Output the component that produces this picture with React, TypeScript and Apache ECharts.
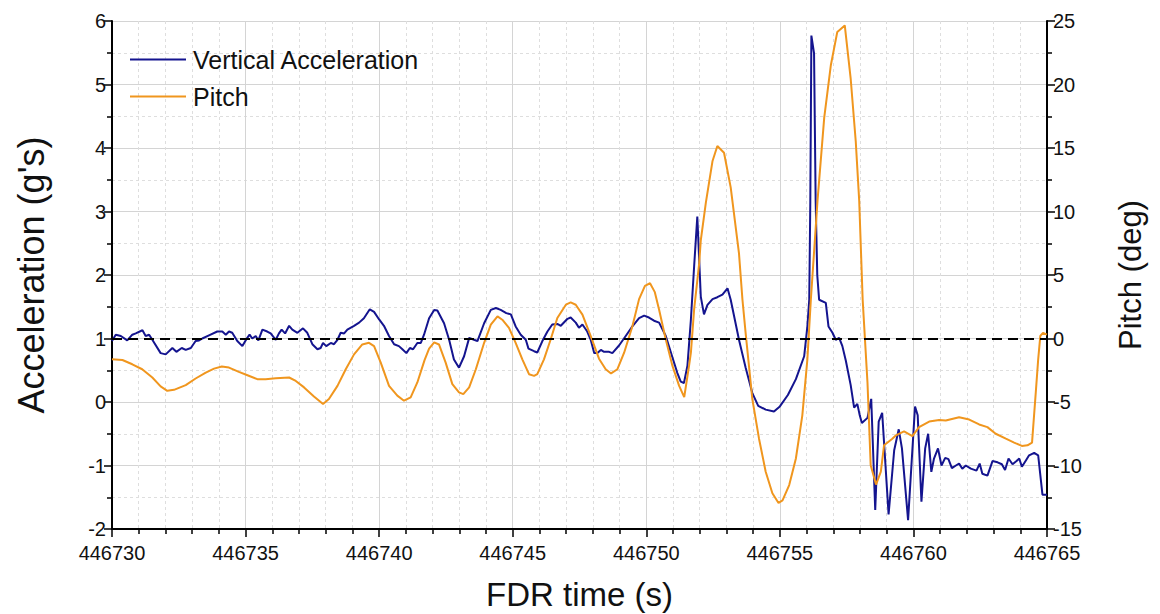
import React, { useEffect, useRef } from "react";
import * as echarts from "echarts";

const BASE_TIME = 446730;
const X_TICKS = [446730, 446735, 446740, 446745, 446750, 446755, 446760, 446765];

// Vertical acceleration (g's): time offset from BASE_TIME (s), value
const accT = [
  0.0, 0.14, 0.33, 0.57, 0.76, 0.89, 1.14, 1.26, 1.39, 1.51, 1.82, 2.01, 2.26, 2.41, 2.61, 2.76, 2.95,
  3.13, 3.26, 3.38, 3.63, 3.94, 4.13, 4.26, 4.38, 4.5, 4.69, 4.88, 5.03, 5.15, 5.25, 5.38, 5.48, 5.63,
  5.81, 5.94, 6.13, 6.25, 6.35, 6.48, 6.63, 6.75, 6.94, 7.15, 7.31, 7.5, 7.69, 7.81, 7.9, 8.02, 8.19,
  8.31, 8.44, 8.56, 8.69, 8.81, 9.06, 9.25, 9.43, 9.65, 9.81, 10.0, 10.18, 10.37, 10.56, 10.74, 10.87,
  11.02, 11.15, 11.27, 11.43, 11.56, 11.68, 11.87, 12.06, 12.18, 12.43, 12.62, 12.8, 12.99, 13.18,
  13.37, 13.55, 13.68, 13.93, 14.18, 14.37, 14.55, 14.76, 14.93, 15.11, 15.3, 15.49, 15.59, 15.8,
  15.92, 16.11, 16.3, 16.48, 16.67, 16.8, 17.05, 17.17, 17.36, 17.48, 17.61, 17.79, 17.92, 18.05,
  18.17, 18.3, 18.42, 18.61, 18.73, 18.98, 19.23, 19.48, 19.73, 19.92, 20.1, 20.29, 20.48, 20.73,
  20.98, 21.16, 21.29, 21.41, 21.54, 21.67, 21.79, 21.91, 22.04, 22.16, 22.29, 22.48, 22.66, 22.85,
  23.04, 23.16, 23.47, 23.72, 23.97, 24.19, 24.47, 24.78, 25.0, 25.3, 25.6, 25.91, 26.03, 26.1,
  26.14, 26.18, 26.28, 26.34, 26.4, 26.47, 26.72, 26.82, 26.97, 27.09, 27.22, 27.34, 27.47, 27.65,
  27.78, 27.9, 27.99, 28.07, 28.28, 28.42, 28.57, 28.7, 28.83, 29.07, 29.28, 29.45, 29.57, 29.8,
  30.06, 30.16, 30.3, 30.44, 30.55, 30.67, 30.77, 30.92, 31.05, 31.19, 31.31, 31.44, 31.59, 31.71,
  31.83, 31.96, 32.15, 32.36, 32.48, 32.58, 32.77, 32.96, 33.15, 33.31, 33.43, 33.56, 33.71, 33.86,
  33.96, 34.06, 34.21, 34.33, 34.52, 34.67, 34.83, 35.0,
];
const accV = [
  0.96, 1.06, 1.04, 0.97, 1.06, 1.08, 1.13, 1.04, 1.06, 0.98, 0.77, 0.75, 0.85, 0.79, 0.85, 0.82, 0.85,
  0.96, 0.97, 1.0, 1.05, 1.11, 1.11, 1.06, 1.11, 1.09, 0.96, 0.88, 0.99, 1.06, 1.0, 1.04, 0.97, 1.14,
  1.11, 1.08, 0.98, 1.08, 1.14, 1.08, 1.2, 1.14, 1.09, 1.16, 1.09, 0.91, 0.83, 0.85, 0.93, 0.88, 0.93,
  0.91, 0.98, 1.09, 1.08, 1.14, 1.2, 1.25, 1.32, 1.46, 1.42, 1.3, 1.2, 1.04, 0.91, 0.88, 0.83,
  0.77, 0.85, 0.83, 0.93, 0.93, 1.06, 1.32, 1.45, 1.44, 1.24, 0.98, 0.67, 0.54, 0.72,
  1.01, 0.98, 0.96, 1.24, 1.45, 1.48, 1.45, 1.4, 1.38, 1.19, 1.06, 0.98, 0.84, 0.8,
  0.78, 0.96, 1.11, 1.22, 1.23, 1.2, 1.31, 1.33, 1.25, 1.17, 1.22, 1.11, 0.98, 0.77,
  0.77, 0.82, 0.79, 0.79, 0.77, 0.89, 1.04, 1.19, 1.32, 1.36, 1.33, 1.28, 1.25, 1.04,
  0.7, 0.46, 0.32, 0.3, 0.57, 1.3, 2.13, 2.92, 1.66, 1.38, 1.53, 1.62, 1.65, 1.69,
  1.79, 1.61, 0.98, 0.54, 0.14, -0.06, -0.12, -0.15, -0.07, 0.11, 0.36, 0.72, 1.19, 1.61,
  3.17, 5.77, 5.49, 3.17, 2.0, 1.61, 1.56, 1.19, 1.09, 0.98, 1.01, 0.88, 0.65, 0.27,
  -0.09, -0.03, -0.21, -0.33, -0.25, 0.05, -1.7, -0.31, -0.17, -1.77, -0.76, -0.43, -0.73, -1.86,
  -0.07, -0.21, -1.57, -0.73, -0.5, -1.1, -0.89, -0.73, -1.0, -0.88, -0.9, -1.04, -1.0, -0.97,
  -1.05, -1.0, -1.05, -1.08, -0.97, -1.13, -1.16, -0.93, -0.95, -0.98, -1.07, -0.89, -0.98, -0.93,
  -0.89, -1.02, -0.92, -0.84, -0.8, -0.84, -1.46, -1.46,
];

// Pitch (deg): time offset from BASE_TIME (s), value
const pitchT = [
  0.0, 0.39, 0.76, 1.13, 1.51, 1.82, 2.07, 2.32, 2.76, 3.13, 3.51, 3.82, 4.11, 4.38, 4.75, 5.07, 5.44,
  5.75, 6.13, 6.63, 6.88, 7.19, 7.56, 7.9, 8.12, 8.44, 8.75, 9.06, 9.37, 9.62, 9.81, 10.06, 10.37,
  10.68, 10.93, 11.18, 11.43, 11.7, 11.87, 12.06, 12.24, 12.49, 12.74, 12.99, 13.15, 13.37, 13.62,
  13.93, 14.18, 14.43, 14.61, 14.86, 15.11, 15.36, 15.61, 15.8, 15.92, 16.17, 16.42, 16.67, 16.99,
  17.17, 17.36, 17.61, 17.92, 18.23, 18.48, 18.68, 18.92, 19.17, 19.48, 19.73, 19.95, 20.14, 20.32,
  20.48, 20.73, 20.98, 21.23, 21.42, 21.6, 21.67, 21.79, 21.98, 22.04, 22.23, 22.48, 22.66, 22.91,
  23.16, 23.47, 23.6, 23.72, 23.97, 24.22, 24.47, 24.72, 24.95, 25.1, 25.35, 25.6, 25.84, 26.03,
  26.16, 26.41, 26.66, 26.91, 27.15, 27.43, 27.65, 27.84, 27.97, 28.1, 28.28, 28.4, 28.6, 28.78,
  28.9, 29.21, 29.34, 29.65, 29.96, 30.21, 30.59, 30.96, 31.21, 31.71, 32.09, 32.46, 32.77, 33.08,
  33.46, 33.77, 34.06, 34.27, 34.44, 34.58, 34.67, 34.75, 34.85, 35.0,
];
const pitchV = [
  -1.64, -1.69, -2.03, -2.42, -3.07, -3.77, -4.12, -4.04, -3.67, -3.15, -2.68, -2.37, -2.21, -2.29,
  -2.63, -2.89, -3.2, -3.2, -3.13, -3.07, -3.34, -3.85, -4.56, -5.16, -4.77, -3.73, -2.42, -1.25,
  -0.47, -0.34, -0.6, -1.9, -3.73, -4.5, -4.9, -4.63, -3.46, -1.7, -0.8, -0.3, -0.47, -1.9, -3.59,
  -4.24, -4.38, -3.85, -2.42, -0.34, 1.09, 1.74, 1.48, 0.84, -0.34, -1.64, -2.81, -2.94, -2.81,
  -1.64, -0.08, 1.61, 2.66, 2.84, 2.66, 1.88, 0.18, -1.59, -2.42, -2.75, -2.42, -1.12, 0.96, 3.1,
  4.15, 4.35, 3.65, 2.27, -0.08, -2.16, -3.73, -4.62, -2.16, -1.12, 2.27, 5.91, 7.73, 10.7, 13.98,
  15.16, 14.63, 11.9, 6.7, 3.05, 0.4, -4.77, -7.89, -10.49, -12.19, -12.95, -12.75, -11.54, -9.45,
  -6.07, -1.64, 3.05, 10.86, 17.37, 21.54, 24.14, 24.65, 20.49, 15.55, 10.86, 3.05, -3.46, -9.98,
  -11.5, -10.49, -8.41, -7.89, -7.63, -7.32, -7.68, -6.98, -6.54, -6.41, -6.46, -6.2, -6.38, -6.77,
  -6.98, -7.5, -7.89, -8.2, -8.46, -8.41, -8.2, -4.24, -1.64, 0.2, 0.45, 0.3,
];

const FONT = "'Liberation Sans', Arial, Helvetica, sans-serif";
const BLUE = "#14148f";
const ORANGE = "#f0961e";

export default function App() {
  const ref = useRef<HTMLDivElement>(null);

  useEffect(() => {
    if (!ref.current) return;
    const chart = echarts.init(ref.current, null, { renderer: "svg" });
    const accData = accT.map((t, i) => [BASE_TIME + t, accV[i]]);
    const pitchData = pitchT.map((t, i) => [BASE_TIME + t, pitchV[i]]);

    const tickLabel = { color: "#111", fontSize: 20, fontFamily: FONT };

    chart.setOption({
      animation: false,
      backgroundColor: "#ffffff",
      grid: {
        left: 112,
        right: 113,
        top: 21,
        bottom: 85,
        containLabel: false,
        outerBoundsMode: "none",
      },
      legend: {
        orient: "vertical",
        left: 125,
        top: 42,
        icon: "rect",
        itemWidth: 56,
        itemHeight: 2,
        itemGap: 12,
        textStyle: { color: "#111", fontSize: 25, fontFamily: FONT, padding: [0, 0, 0, 2] },
        data: ["Vertical Acceleration", "Pitch"],
      },
      xAxis: {
        type: "value",
        min: X_TICKS[0],
        max: X_TICKS[X_TICKS.length - 1],
        interval: 5,
        name: "FDR time (s)",
        nameLocation: "middle",
        nameGap: 49,
        nameTextStyle: { color: "#111", fontSize: 33, fontFamily: FONT },
        axisLine: { onZero: false, lineStyle: { color: "#000", width: 2 } },
        axisTick: { show: true, length: 8, lineStyle: { color: "#000", width: 1.5 } },
        minorTick: { show: true, splitNumber: 5, length: 5, lineStyle: { color: "#000", width: 1.5 } },
        axisLabel: { ...tickLabel, margin: 14, formatter: (v: number) => String(v) },
        splitLine: { show: true, lineStyle: { color: "#d4d4d4", width: 1 } },
        minorSplitLine: { show: true, lineStyle: { color: "#dedede", width: 1, type: [3, 3] } },
      },
      yAxis: [
        {
          type: "value",
          min: -2,
          max: 6,
          interval: 1,
          name: "Acceleration (g's)",
          nameLocation: "middle",
          nameGap: 63,
          nameTextStyle: { color: "#111", fontSize: 36, fontFamily: FONT },
          axisLine: { show: true, onZero: false, lineStyle: { color: "#000", width: 2 } },
          axisTick: { show: true, length: 8, lineStyle: { color: "#000", width: 1.5 } },
          minorTick: { show: true, splitNumber: 2, length: 5, lineStyle: { color: "#000", width: 1.5 } },
          axisLabel: { ...tickLabel, margin: 6 },
          splitLine: { show: true, lineStyle: { color: "#d4d4d4", width: 1 } },
          minorSplitLine: { show: true, lineStyle: { color: "#dedede", width: 1, type: [3, 3] } },
        },
        {
          type: "value",
          min: -15,
          max: 25,
          interval: 5,
          position: "right",
          name: "Pitch (deg)",
          nameLocation: "middle",
          nameGap: 68,
          nameTextStyle: { color: "#111", fontSize: 31, fontFamily: FONT },
          axisLine: { show: true, onZero: false, lineStyle: { color: "#000", width: 2 } },
          axisTick: { show: true, length: 8, lineStyle: { color: "#000", width: 1.5 } },
          minorTick: { show: true, splitNumber: 2, length: 5, lineStyle: { color: "#000", width: 1.5 } },
          axisLabel: { ...tickLabel, margin: 6 },
          splitLine: { show: false },
        },
      ],
      series: [
        {
          name: "Vertical Acceleration",
          type: "line",
          yAxisIndex: 0,
          data: accData,
          symbol: "none",
          lineStyle: { color: BLUE, width: 2 },
          itemStyle: { color: BLUE },
          markLine: {
            silent: true,
            symbol: ["none", "none"],
            label: { show: false },
            lineStyle: { color: "#000", width: 2, type: [10, 6] },
            data: [{ yAxis: 1 }],
          },
        },
        {
          name: "Pitch",
          type: "line",
          yAxisIndex: 1,
          data: pitchData,
          symbol: "none",
          lineStyle: { color: ORANGE, width: 2 },
          itemStyle: { color: ORANGE },
        },
      ],
    });
    return () => chart.dispose();
  }, []);

  return (
    <div
      ref={ref}
      style={{ position: "fixed", left: 0, top: 0, width: 1160, height: 614, background: "#fff" }}
    />
  );
}
